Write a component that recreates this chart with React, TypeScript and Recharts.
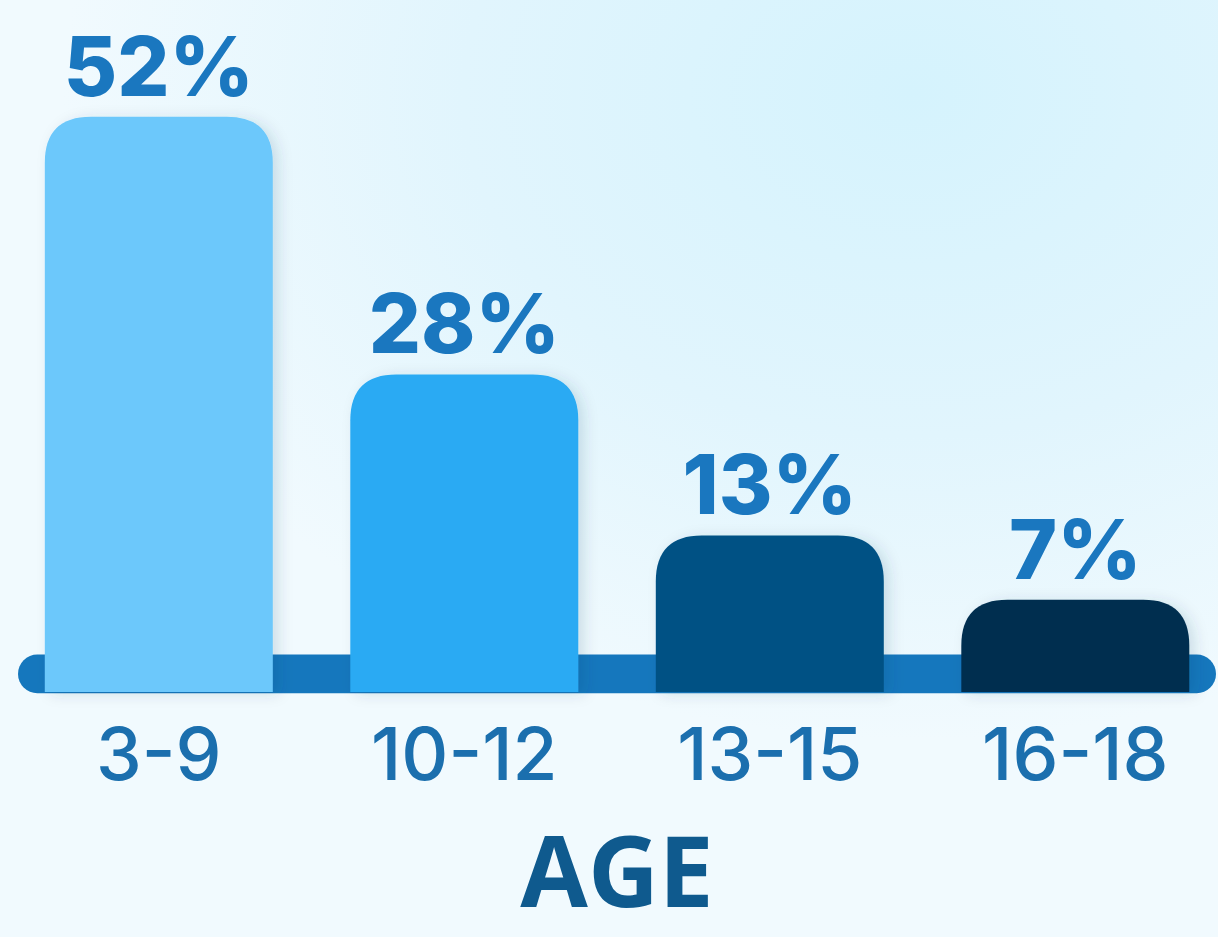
import React from "react";
import { BarChart, Bar, XAxis, YAxis, Cell, LabelList, ReferenceArea } from "recharts";

const ageGroups = ["3-9", "10-12", "13-15", "16-18"];
const shares = [52, 28, 13, 7];
const barColors = ["#6cc8fb", "#29aaf3", "#055184", "#032f50"];

const data = ageGroups.map((age, i) => ({ age, share: shares[i] }));

const W = 1218;
const H = 937;

// rounded top, flat bottom that drops a bit below zero so it sits on the strip
function PillBar(props: any) {
  const { x, y, width, height, fill } = props;
  if (width == null || height == null) return null;
  const ext = 17;
  const r = Math.min(46, width / 2, height);
  const b = y + height + ext;
  const d = `M${x},${b} L${x},${y + r} Q${x},${y} ${x + r},${y} L${x + width - r},${y} Q${x + width},${y} ${x + width},${y + r} L${x + width},${b} Z`;
  return <path d={d} fill={fill} filter="url(#barShadow)" />;
}

function Strip(props: any) {
  const { x, y, width, height } = props;
  return (
    <rect x={x + 12} y={y} width={width - 24} height={height} rx={height / 2} fill="#1577bd" />
  );
}

export default function App() {
  return (
    <div
      style={{
        position: "absolute",
        left: 0,
        top: 0,
        width: W,
        height: H,
        overflow: "hidden",
        background:
          "radial-gradient(ellipse 1000px 760px at 75% 10%, #d5f3fd 0%, #e1f5fd 45%, #f1fafe 85%)",
      }}
    >
      <BarChart
        width={1234}
        height={H}
        data={data}
        margin={{ top: 31, right: 6, left: 6, bottom: 0 }}
        barCategoryGap="12.7%"
      >
        <defs>
          <filter id="barShadow" x="-20%" y="-20%" width="140%" height="140%">
            <feDropShadow dx="6" dy="2" stdDeviation="7" floodColor="#0b3b5c" floodOpacity="0.14" />
          </filter>
        </defs>
        <YAxis hide domain={[0, 60]} />
        <ReferenceArea y1={-1.7} y2={1.9} ifOverflow="visible" shape={<Strip />} />
        <XAxis
          dataKey="age"
          axisLine={false}
          tickLine={false}
          tickSize={0}
          tickMargin={53}
          height={262}
          interval={0}
          tick={{ fontSize: 73, fontFamily: "Inter", fontWeight: 500, fill: "#1b6fae" }}
          label={{
            value: "AGE",
            position: "insideBottom",
            offset: 30,
            style: { fontSize: 98, fontFamily: "Open Sans", fontWeight: 700, fill: "#0f5a8e" },
          }}
        />
        <Bar dataKey="share" shape={<PillBar />} isAnimationActive={false}>
          {data.map((d, i) => (
            <Cell key={d.age} fill={barColors[i]} />
          ))}
          <LabelList
            dataKey="share"
            position="top"
            offset={21}
            formatter={(v: any) => `${v}%`}
            style={{ fontSize: 82, fontFamily: "Inter", fontWeight: 800, fill: "#1a77bf" }}
          />
        </Bar>
      </BarChart>
    </div>
  );
}
